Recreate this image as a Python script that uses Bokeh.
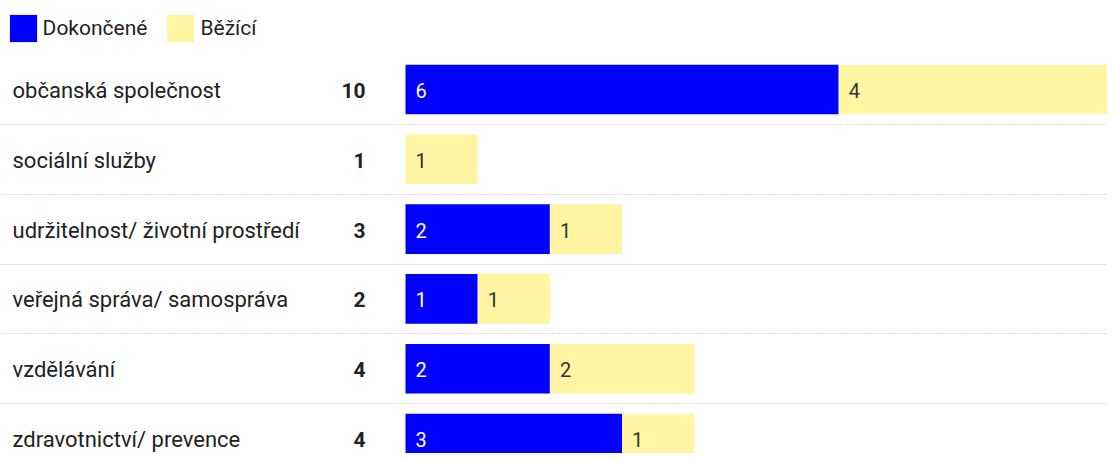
from bokeh.plotting import figure
from bokeh.models import (ColumnDataSource, Range1d, Legend, LegendItem, Grid, FixedTicker)
from bokeh.core.properties import value
from bokeh.embed import file_html
from bokeh.resources import INLINE

categories = ["občanská společnost", "sociální služby", "udržitelnost/ životní prostředí",
              "veřejná správa/ samospráva", "vzdělávání", "zdravotnictví/ prevence"]
done = [6, 0, 2, 1, 2, 3]
running = [4, 1, 1, 1, 2, 1]
series_names = ["Dokončené", "Běžící"]

BLUE = "#0000FF"
YELLOW = "#FFF5A3"
W, H = 1107, 453
PX_PER_UNIT = 72.2
BAR_X0 = 405        # pixel of value 0 inside figure
ROW_H = 69.8
ROW0 = 89           # pixel center of first row inside figure

rows = list(range(len(categories)))
totals = [d + r for d, r in zip(done, running)]

x_start = -BAR_X0 / PX_PER_UNIT
x_end = (W - BAR_X0) / PX_PER_UNIT
y_top = -ROW0 / ROW_H
y_bottom = (H - ROW0) / ROW_H

p = figure(width=W, height=H, output_backend="svg", toolbar_location=None,
           x_range=Range1d(x_start, x_end), y_range=Range1d(y_bottom, y_top),
           x_axis_type=None, y_axis_type=None, min_border=0,
           outline_line_color=None)

# dotted separators
p.add_layout(Grid(dimension=1, ticker=FixedTicker(ticks=[i + 0.5 for i in rows[:-1]]),
                  grid_line_color="#bbbbbb", grid_line_dash="1 2", grid_line_width=1))

src = ColumnDataSource(dict(y=rows, done=done, running=running,
                            cat=categories, total=[str(t) for t in totals]))
rs = p.hbar_stack(["done", "running"], y="y", height=0.71, color=[BLUE, YELLOW],
                  line_color=None, source=src)

# value labels inside bars
d_idx = [i for i in rows if done[i] > 0]
r_idx = [i for i in rows if running[i] > 0]
dsrc = ColumnDataSource(dict(x=[0] * len(d_idx), y=d_idx, t=[str(done[i]) for i in d_idx]))
rsrc = ColumnDataSource(dict(x=[done[i] for i in r_idx], y=r_idx, t=[str(running[i]) for i in r_idx]))
p.text(x="x", y="y", text="t", source=dsrc, x_offset=10, y_offset=1, text_baseline="middle",
       text_color="white", text_font=value("Roboto"), text_font_size="20px")
p.text(x="x", y="y", text="t", source=rsrc, x_offset=10, y_offset=1, text_baseline="middle",
       text_color="#333333", text_font=value("Roboto"), text_font_size="20px")

# category labels and totals
p.text(x=0, y="y", text="cat", source=src, x_offset=-393, y_offset=1, text_baseline="middle",
       text_color="#222222", text_font=value("Roboto"), text_font_size="22px")
p.text(x=0, y="y", text="total", source=src, x_offset=-40, y_offset=1, text_align="right",
       text_baseline="middle", text_color="#222222", text_font=value("Roboto"),
       text_font_size="21px", text_font_style="bold")

legend = Legend(items=[LegendItem(label=series_names[0], renderers=[rs[0]]),
                       LegendItem(label=series_names[1], renderers=[rs[1]])],
                orientation="horizontal", location=(5.6, H - 10.6 - 34), margin=0, padding=0,
                glyph_width=34, glyph_height=34, label_standoff=3, spacing=16,
                label_text_font="Roboto", label_text_font_size="21px",
                label_text_color="#222222", border_line_alpha=0,
                background_fill_alpha=0)
p.add_layout(legend)

open("out.html", "w").write(file_html(p, INLINE))
